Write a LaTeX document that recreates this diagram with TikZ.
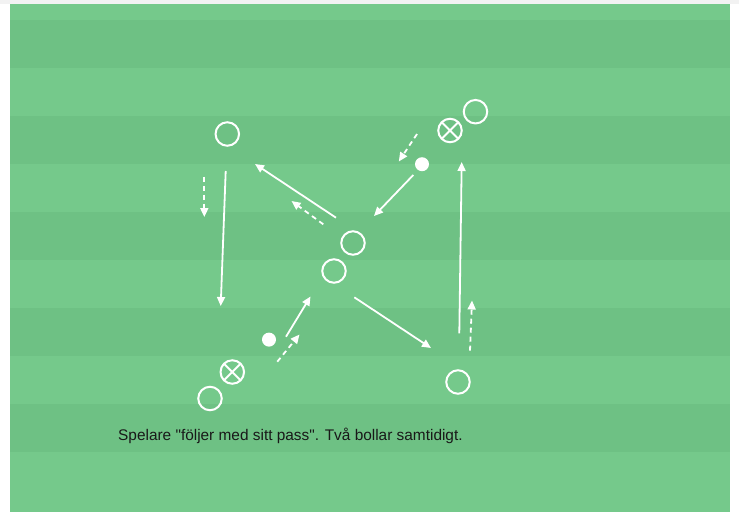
\documentclass[tikz,border=0pt]{standalone}
\usepackage{fontspec}
\setmainfont{Liberation Sans}[Ligatures=TeXOff]
\usepackage{xcolor}
\usetikzlibrary{arrows.meta}
\definecolor{fieldlight}{HTML}{75C98B}
\definecolor{fielddark}{HTML}{6EC184}
\definecolor{edgegrey}{HTML}{F2F2F2}

\begin{document}
\begin{tikzpicture}[x=1pt, y=-1pt,
    player/.style={circle, draw=white, line width=2pt, minimum size=23.5pt, inner sep=0pt},
    marked/.style={player, path picture={
      \draw[white, line width=2pt] (path picture bounding box.north west) -- (path picture bounding box.south east)
        (path picture bounding box.north east) -- (path picture bounding box.south west);}},
    ball/.style={circle, fill=white, minimum size=14pt, inner sep=0pt},
    pass/.style={white, line width=1.8pt, -{Triangle[length=9pt, width=8pt]}},
    run/.style={pass, dash pattern=on 5pt off 4pt}]
  \useasboundingbox (0,0) rectangle (739,512);
  \fill[white] (0,0) rectangle (739,512);
  \fill[edgegrey] (0,0) rectangle (739,4);
  \fill[fieldlight] (10,4) rectangle (730,512);
  \foreach \y in {20,116,212,308,404}
    \fill[fielddark] (10,\y) rectangle (730,\y+48);

  % spelare och bollar
  \node[player] (tl) at (227.3,134) {};
  \node[player] (mid1) at (353,243) {};
  \node[player] (mid2) at (334,271) {};
  \node[player] (tr) at (475.5,111.7) {};
  \node[player] (br) at (458,382) {};
  \node[player] (bl) at (210,398.5) {};
  \node[marked] (trx) at (450,130.5) {};
  \node[marked] (blx) at (232.3,372) {};
  \node[ball] (ballA) at (422,164.2) {};
  \node[ball] (ballB) at (269,339.6) {};

  % passningar
  \coordinate (p1s) at (225.7,171);   \coordinate (p1e) at (220.7,306);
  \coordinate (p2s) at (336,217.7);   \coordinate (p2e) at (255,164);
  \coordinate (p3s) at (413.3,175);   \coordinate (p3e) at (374,216);
  \coordinate (p4s) at (459.3,333.3); \coordinate (p4e) at (461.7,162);
  \coordinate (p5s) at (354.3,297.3); \coordinate (p5e) at (431,348);
  \coordinate (p6s) at (286,336.7);   \coordinate (p6e) at (310.5,296.5);
  \draw[pass] (p1s) -- (p1e);
  \draw[pass] (p2s) -- (p2e);
  \draw[pass] (p3s) -- (p3e);
  \draw[pass] (p4s) -- (p4e);
  \draw[pass] (p5s) -- (p5e);
  \draw[pass] (p6s) -- (p6e);

  % löpningar
  \coordinate (r1s) at (204.3,176.5); \coordinate (r1e) at (204.3,217);
  \coordinate (r2s) at (323.3,224.3); \coordinate (r2e) at (291.5,201);
  \coordinate (r3s) at (417,134);     \coordinate (r3e) at (398.8,161.5);
  \coordinate (r4s) at (470,350.7);   \coordinate (r4e) at (472,300.5);
  \coordinate (r5s) at (277.3,361.7); \coordinate (r5e) at (299.5,334.5);
  \draw[run] (r1s) -- (r1e);
  \draw[run] (r2s) -- (r2e);
  \draw[run] (r3s) -- (r3e);
  \draw[run] (r4s) -- (r4e);
  \draw[run] (r5s) -- (r5e);

  \node[anchor=base west, inner sep=0pt, text=black!90, font=\fontsize{15.4}{18}\selectfont] (info) at (118,440.7)
    {Spelare "följer med sitt pass". Två bollar samtidigt.};
\end{tikzpicture}
\end{document}
